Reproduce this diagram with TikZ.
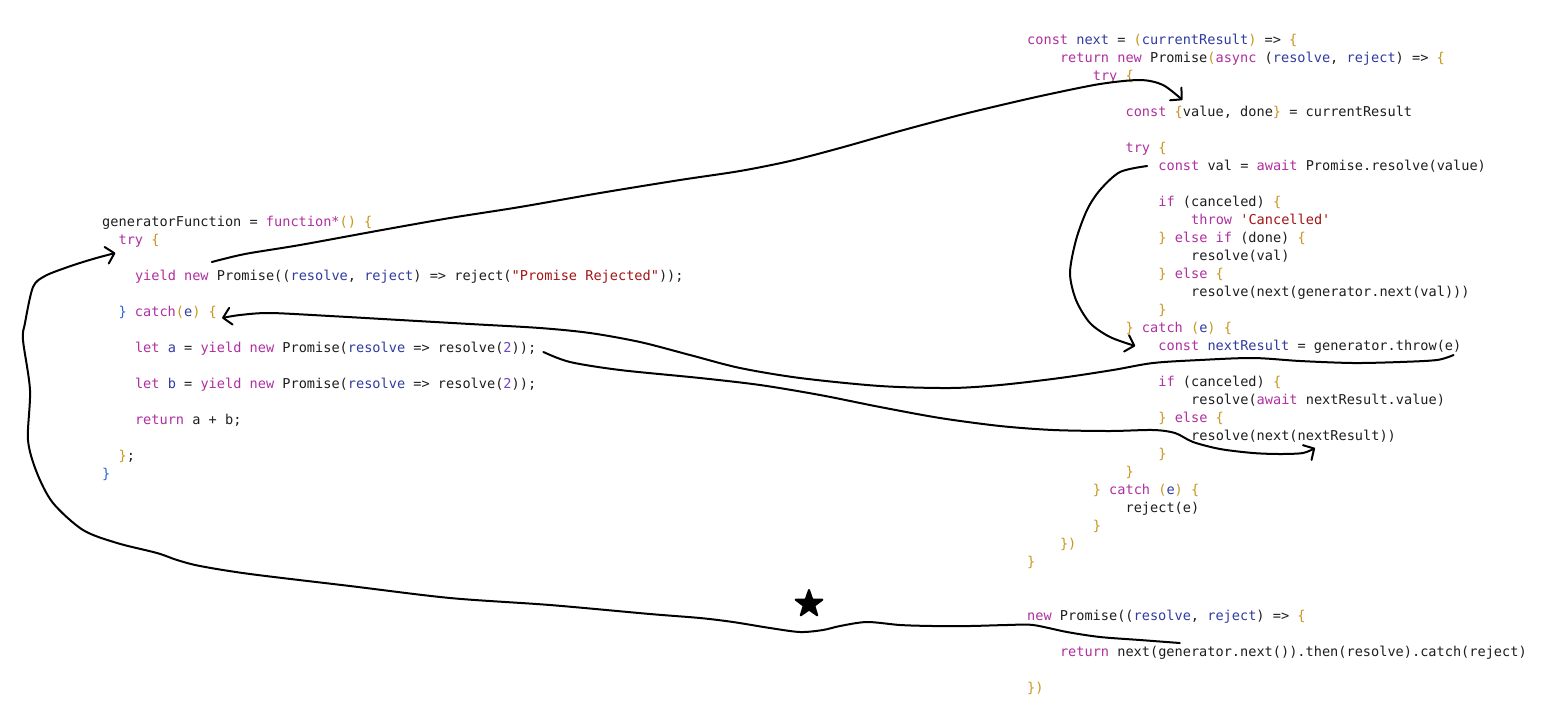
\documentclass[tikz,border=0pt]{standalone}
\usepackage{fontspec}
\setmonofont{DejaVu Sans Mono}
\usepackage{tikz}
\usetikzlibrary{arrows.meta, shapes.geometric}
\definecolor{txtc}{RGB}{30,30,30}
\definecolor{kwc}{RGB}{176,48,160}
\definecolor{idc}{RGB}{48,60,160}
\definecolor{strc}{RGB}{163,21,21}
\definecolor{numc}{RGB}{110,70,200}
\definecolor{brc}{RGB}{200,150,30}
\definecolor{blc}{RGB}{40,100,200}
\newcommand{\ckw}[1]{\textcolor{kwc}{#1}}
\newcommand{\cid}[1]{\textcolor{idc}{#1}}
\newcommand{\cstr}[1]{\textcolor{strc}{#1}}
\newcommand{\cnum}[1]{\textcolor{numc}{#1}}
\newcommand{\cbr}[1]{\textcolor{brc}{#1}}
\tikzset{
    code/.style={anchor=base west, inner sep=0pt, text=txtc,
        font=\ttfamily\fontsize{13.6}{18}\selectfont},
    sketch/.style={line width=2pt, line cap=round, line join=round,
        -{Straight Barb[length=8pt,width=17pt,round]}},
}
\begin{document}
\begin{tikzpicture}[x=1pt, y=-1pt]
\fill[white] (0,0) rectangle (1558,705);
\useasboundingbox (0,0) rectangle (1558,705);

% generator function
\node[code] (gfn) at (102,226) {generatorFunction = \ckw{function*}\cbr{()} \cbr{\{}};
\node[code] (gtry) at (118.4,244) {\ckw{try} \cbr{\{}};
\node[code] (gyield) at (134.8,280) {\ckw{yield new} Promise((\cid{resolve}, \cid{reject}) => reject(\cstr{"Promise Rejected"}));};
\node[code] (gcatch) at (118.4,316) {\textcolor{blc}{\}} \ckw{catch}\cbr{(}\cid{e}\cbr{)} \cbr{\{}};
\node[code] (gleta) at (134.8,352) {\ckw{let} \cid{a} = \ckw{yield new} Promise(\cid{resolve} => resolve(\cnum{2}));};
\node[code] (gletb) at (134.8,388) {\ckw{let} \cid{b} = \ckw{yield new} Promise(\cid{resolve} => resolve(\cnum{2}));};
\node[code] (gret) at (134.8,424) {\ckw{return} a + b;};
\node[code] (gend) at (118.4,460) {\cbr{\}};};
\node[code] (gfin) at (102,478) {\textcolor{blc}{\}}};

% next
\node[code] (nxt) at (1027,44) {\ckw{const} \cid{next} = \cbr{(}\cid{currentResult}\cbr{)} => \cbr{\{}};
\node[code] (nret) at (1059.8,62) {\ckw{return new} Promise\cbr{(}\ckw{async} (\cid{resolve}, \cid{reject}) => \cbr{\{}};
\node[code] (ntry) at (1092.6,80) {\ckw{try} \cbr{\{}};
\node[code] (nval) at (1125.4,116) {\ckw{const} \cbr{\{}value, done\cbr{\}} = currentResult};
\node[code] (ntry2) at (1125.4,152) {\ckw{try} \cbr{\{}};
\node[code] (nawait) at (1158.2,170) {\ckw{const} val = \ckw{await} Promise.resolve(value)};
\node[code] (nif) at (1158.2,206) {\ckw{if} (canceled) \cbr{\{}};
\node[code] (nthrow) at (1191,224) {\ckw{throw} \cstr{'Cancelled'}};
\node[code] (nelif) at (1158.2,242) {\cbr{\}} \ckw{else if} (done) \cbr{\{}};
\node[code] (nres1) at (1191,260) {resolve(val)};
\node[code] (nelse) at (1158.2,278) {\cbr{\}} \ckw{else} \cbr{\{}};
\node[code] (nres2) at (1191,296) {resolve(next(generator.next(val)))};
\node[code] (nclose1) at (1158.2,314) {\cbr{\}}};
\node[code] (ncatch) at (1125.4,332) {\cbr{\}} \ckw{catch} \cbr{(}\cid{e}\cbr{)} \cbr{\{}};
\node[code] (nthr) at (1158.2,350) {\ckw{const} \cid{nextResult} = generator.throw(e)};
\node[code] (nif2) at (1158.2,386) {\ckw{if} (canceled) \cbr{\{}};
\node[code] (nres3) at (1191,404) {resolve(\ckw{await} nextResult.value)};
\node[code] (nelse2) at (1158.2,422) {\cbr{\}} \ckw{else} \cbr{\{}};
\node[code] (nres4) at (1191,440) {resolve(next(nextResult))};
\node[code] (nclose2) at (1158.2,458) {\cbr{\}}};
\node[code] (nclose3) at (1125.4,476) {\cbr{\}}};
\node[code] (ncatch2) at (1092.6,494) {\cbr{\}} \ckw{catch} \cbr{(}\cid{e}\cbr{)} \cbr{\{}};
\node[code] (nrej) at (1125.4,512) {reject(e)};
\node[code] (nclose4) at (1092.6,530) {\cbr{\}}};
\node[code] (nclose5) at (1059.8,548) {\cbr{\})}};
\node[code] (nclose6) at (1027,566) {\cbr{\}}};

% outer promise
\node[code] (pnew) at (1027,620) {\ckw{new} Promise((\cid{resolve}, \cid{reject}) => \cbr{\{}};
\node[code] (pret) at (1059.8,656) {\ckw{return} next(generator.next()).then(resolve).catch(reject)};
\node[code] (pend) at (1027,692) {\cbr{\})}};

\node[star, star points=5, star point ratio=2.5, fill=black, draw=black, line join=round,
    line width=2pt, minimum size=28pt, inner sep=0pt] (mark) at (809,604) {};

\coordinate (aS) at ([shift={(77,-18)}]gyield.base west);
\coordinate (aE) at ([shift={(57,-16)}]nval.base west);
\coordinate (bS) at ([shift={(-11,-4)}]nawait.base west);
\coordinate (bE) at ([shift={(-23,-4)}]nthr.base west);
\coordinate (cS) at ([shift={(-8,5)}]nthr.base east);
\coordinate (cE) at ([shift={(5,2)}]gcatch.base east);
\coordinate (dS) at ([shift={(7,0)}]gleta.base east);
\coordinate (dE) at ([shift={(124,8)}]nres4.base west);
\coordinate (eS) at ([shift={(120,-13)}]pret.base west);
\coordinate (eE) at ([shift={(-3,9)}]gtry.base west);

\draw[sketch] plot[smooth] coordinates {(aS) (245,254) (300,245) (382,230) (450,218)
    (520,207) (600,193) (680,180) (740,171) (790,161) (840,148) (900,131) (960,115)
    (1010,103) (1050,94) (1100,84) (1140,80) (1163,85) (aE)};
\draw[sketch] plot[smooth] coordinates {(bS) (1120,172) (1100,190) (1087,210) (1076,240)
    (1070,273) (1076,300) (1090,323) (1110,337) (bE)};
\draw[sketch] plot[smooth] coordinates {(cS) (1437,360) (1400,362) (1353,363) (1300,361)
    (1253,358) (1200,360) (1153,363) (1113,370) (1060,378) (1000,385) (950,388) (880,386)
    (800,378) (740,368) (690,355) (640,342) (590,333) (540,328) (470,324) (400,320)
    (330,316) (270,313) (240,315) (cE)};
\draw[sketch] plot[smooth] coordinates {(dS) (570,362) (620,370) (700,378) (760,385) (820,395)
    (880,407) (940,418) (1000,426) (1053,430) (1110,431) (1153,430) (1175,433) (1193,442)
    (1220,449) (1253,453) (1280,454) (1303,453) (dE)};
\draw[sketch] plot[smooth] coordinates {(eS) (1140,640) (1100,637) (1067,632) (1033,625)
    (1007,625) (970,626) (933,626) (900,625) (867,622) (840,626) (823,630) (800,632)
    (770,628) (733,622) (700,618) (650,614) (550,605) (450,598) (350,586) (250,574)
    (200,566) (177,560) (157,553) (117,543) (83,530) (53,503) (37,473) (28,440) (30,390)
    (23,340) (25,323) (33,287) (45,276) (65,268) (83,262) (100,257) (eE)};
\end{tikzpicture}
\end{document}
